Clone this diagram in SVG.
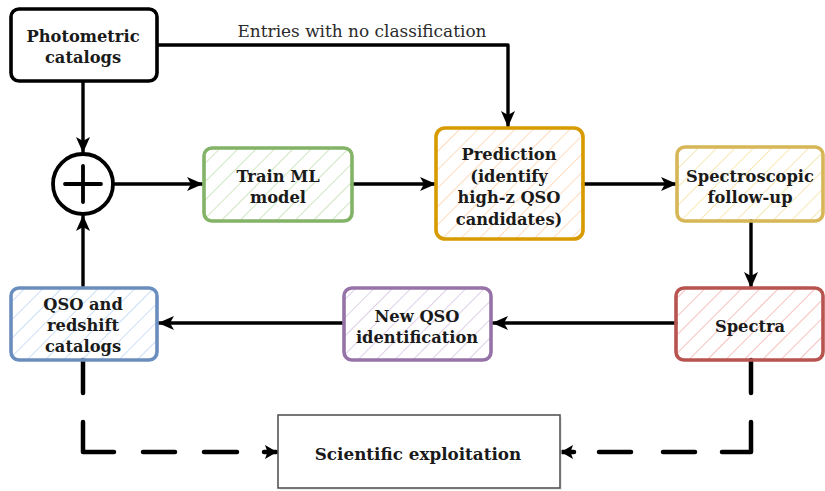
<svg xmlns="http://www.w3.org/2000/svg" width="825" height="491" viewBox="0 0 825 491">
<style>
.box{stroke-width:3.6;stroke-linejoin:round}
.t{font-family:"DejaVu Serif","Noto Serif",serif;font-weight:bold;font-size:16.3px;fill:#1a1a1a;text-anchor:middle}
.lbl{font-family:"DejaVu Serif","Noto Serif",serif;font-size:16.5px;fill:#2a2a2a;text-anchor:middle}
.c{fill:none;stroke:#000;stroke-width:3.4;stroke-linecap:round;stroke-linejoin:round}
.d{fill:none;stroke:#000;stroke-width:4.5;stroke-linecap:round;stroke-linejoin:round}
</style>
<defs>
<marker id="ah" viewBox="0 0 16 14" refX="15" refY="7" markerWidth="16" markerHeight="14" markerUnits="userSpaceOnUse" orient="auto">
<path d="M0,0 L16,7 L0,14 L4,7 Z" fill="#000"/>
</marker>
<marker id="ahd" viewBox="0 0 12 14" refX="11" refY="7" markerWidth="12" markerHeight="14" markerUnits="userSpaceOnUse" orient="auto">
<path d="M0,0 L12,7 L0,14 L2.5,7 Z" fill="#000"/>
</marker>
<pattern id="hg" width="13" height="13" patternUnits="userSpaceOnUse" patternTransform="rotate(45)"><line x1="0" y1="0" x2="0" y2="13" stroke="#c6e2b8" stroke-width="1.7"/></pattern>
<pattern id="ho" width="13" height="13" patternUnits="userSpaceOnUse" patternTransform="rotate(45)"><line x1="0" y1="0" x2="0" y2="13" stroke="#ffd6b3" stroke-width="1.7"/></pattern>
<pattern id="hy" width="13" height="13" patternUnits="userSpaceOnUse" patternTransform="rotate(45)"><line x1="0" y1="0" x2="0" y2="13" stroke="#f6e3a6" stroke-width="1.7"/></pattern>
<pattern id="hr" width="13" height="13" patternUnits="userSpaceOnUse" patternTransform="rotate(45)"><line x1="0" y1="0" x2="0" y2="13" stroke="#f5b7b4" stroke-width="1.7"/></pattern>
<pattern id="hp" width="13" height="13" patternUnits="userSpaceOnUse" patternTransform="rotate(45)"><line x1="0" y1="0" x2="0" y2="13" stroke="#d9c8e3" stroke-width="1.7"/></pattern>
<pattern id="hb" width="13" height="13" patternUnits="userSpaceOnUse" patternTransform="rotate(45)"><line x1="0" y1="0" x2="0" y2="13" stroke="#c4d9f5" stroke-width="1.7"/></pattern>
</defs>
<rect width="825" height="491" fill="#fff"/>

<g id="connectors">
<path class="c" d="M157,45 H508 V126" marker-end="url(#ah)"/>
<text class="lbl" x="362" y="37" textLength="249" lengthAdjust="spacingAndGlyphs">Entries with no classification</text>
<path class="c" d="M83,82 V152" marker-end="url(#ah)"/>
<path class="c" d="M115,184 H202" marker-end="url(#ah)"/>
<path class="c" d="M352,184 H435" marker-end="url(#ah)"/>
<path class="c" d="M583,184 H676" marker-end="url(#ah)"/>
<path class="c" d="M751,221 V287" marker-end="url(#ah)"/>
<path class="c" d="M676,323 H493" marker-end="url(#ah)"/>
<path class="c" d="M343,323 H159" marker-end="url(#ah)"/>
<path class="c" d="M83,287 V216" marker-end="url(#ah)"/>
<path class="d" d="M83,360 V393"/>
<path class="d" d="M83,422 V452 H114"/>
<path class="d" d="M143,452 H175"/>
<path class="d" d="M204,452 H237"/>
<path class="d" d="M264,452 H276" marker-end="url(#ahd)"/>
<path class="d" d="M751,360 V393"/>
<path class="d" d="M751,422 V452 H722"/>
<path class="d" d="M695,452 H663"/>
<path class="d" d="M631,452 H599"/>
<path class="d" d="M574,452 H562" marker-end="url(#ahd)"/>
</g>

<g id="photometric">
<rect class="box" x="11" y="9" width="146" height="72" rx="8" fill="#fff" stroke="#000"/>
<text class="t" x="83" y="42">Photometric</text>
<text class="t" x="83" y="63">catalogs</text>
</g>

<g id="sum">
<circle cx="83" cy="184" r="30" fill="#fff" stroke="#000" stroke-width="3.8"/>
<path d="M65,184 H101 M83,166 V202" stroke="#000" stroke-width="3.8" stroke-linecap="round"/>
</g>

<g id="train">
<rect class="box" x="204" y="148" width="148" height="73" rx="8" fill="url(#hg)" stroke="#82b366"/>
<text class="t" x="278" y="182">Train ML</text>
<text class="t" x="278" y="203">model</text>
</g>

<g id="prediction">
<rect class="box" x="436" y="128" width="147" height="111" rx="9" fill="url(#ho)" stroke="#d79b00"/>
<text class="t" x="509" y="160">Prediction</text>
<text class="t" x="509" y="182">(identify</text>
<text class="t" x="509" y="203">high-z QSO</text>
<text class="t" x="509" y="225">candidates)</text>
</g>

<g id="spectroscopic">
<rect class="box" x="677" y="147" width="146" height="74" rx="8" fill="url(#hy)" stroke="#d6b656"/>
<text class="t" x="750" y="182">Spectroscopic</text>
<text class="t" x="750" y="203">follow-up</text>
</g>

<g id="spectra">
<rect class="box" x="676" y="288" width="147" height="72" rx="8" fill="url(#hr)" stroke="#b85450"/>
<text class="t" x="750" y="332">Spectra</text>
</g>

<g id="newqso">
<rect class="box" x="344" y="288" width="147" height="72" rx="8" fill="url(#hp)" stroke="#9673a6"/>
<text class="t" x="417" y="322">New QSO</text>
<text class="t" x="417" y="343">identification</text>
</g>

<g id="qsocat">
<rect class="box" x="11" y="288" width="146" height="72" rx="8" fill="url(#hb)" stroke="#6c8ebf"/>
<text class="t" x="83" y="310">QSO and</text>
<text class="t" x="83" y="331">redshift</text>
<text class="t" x="83" y="352">catalogs</text>
</g>

<g id="scientific">
<rect x="280" y="417" width="282" height="73" fill="#ddd" opacity="0.6"/>
<rect x="278" y="415" width="282" height="73" fill="#fff" stroke="#555" stroke-width="1.6"/>
<text class="t" x="418" y="460" style="font-size:16.8px">Scientific exploitation</text>
</g>
</svg>
